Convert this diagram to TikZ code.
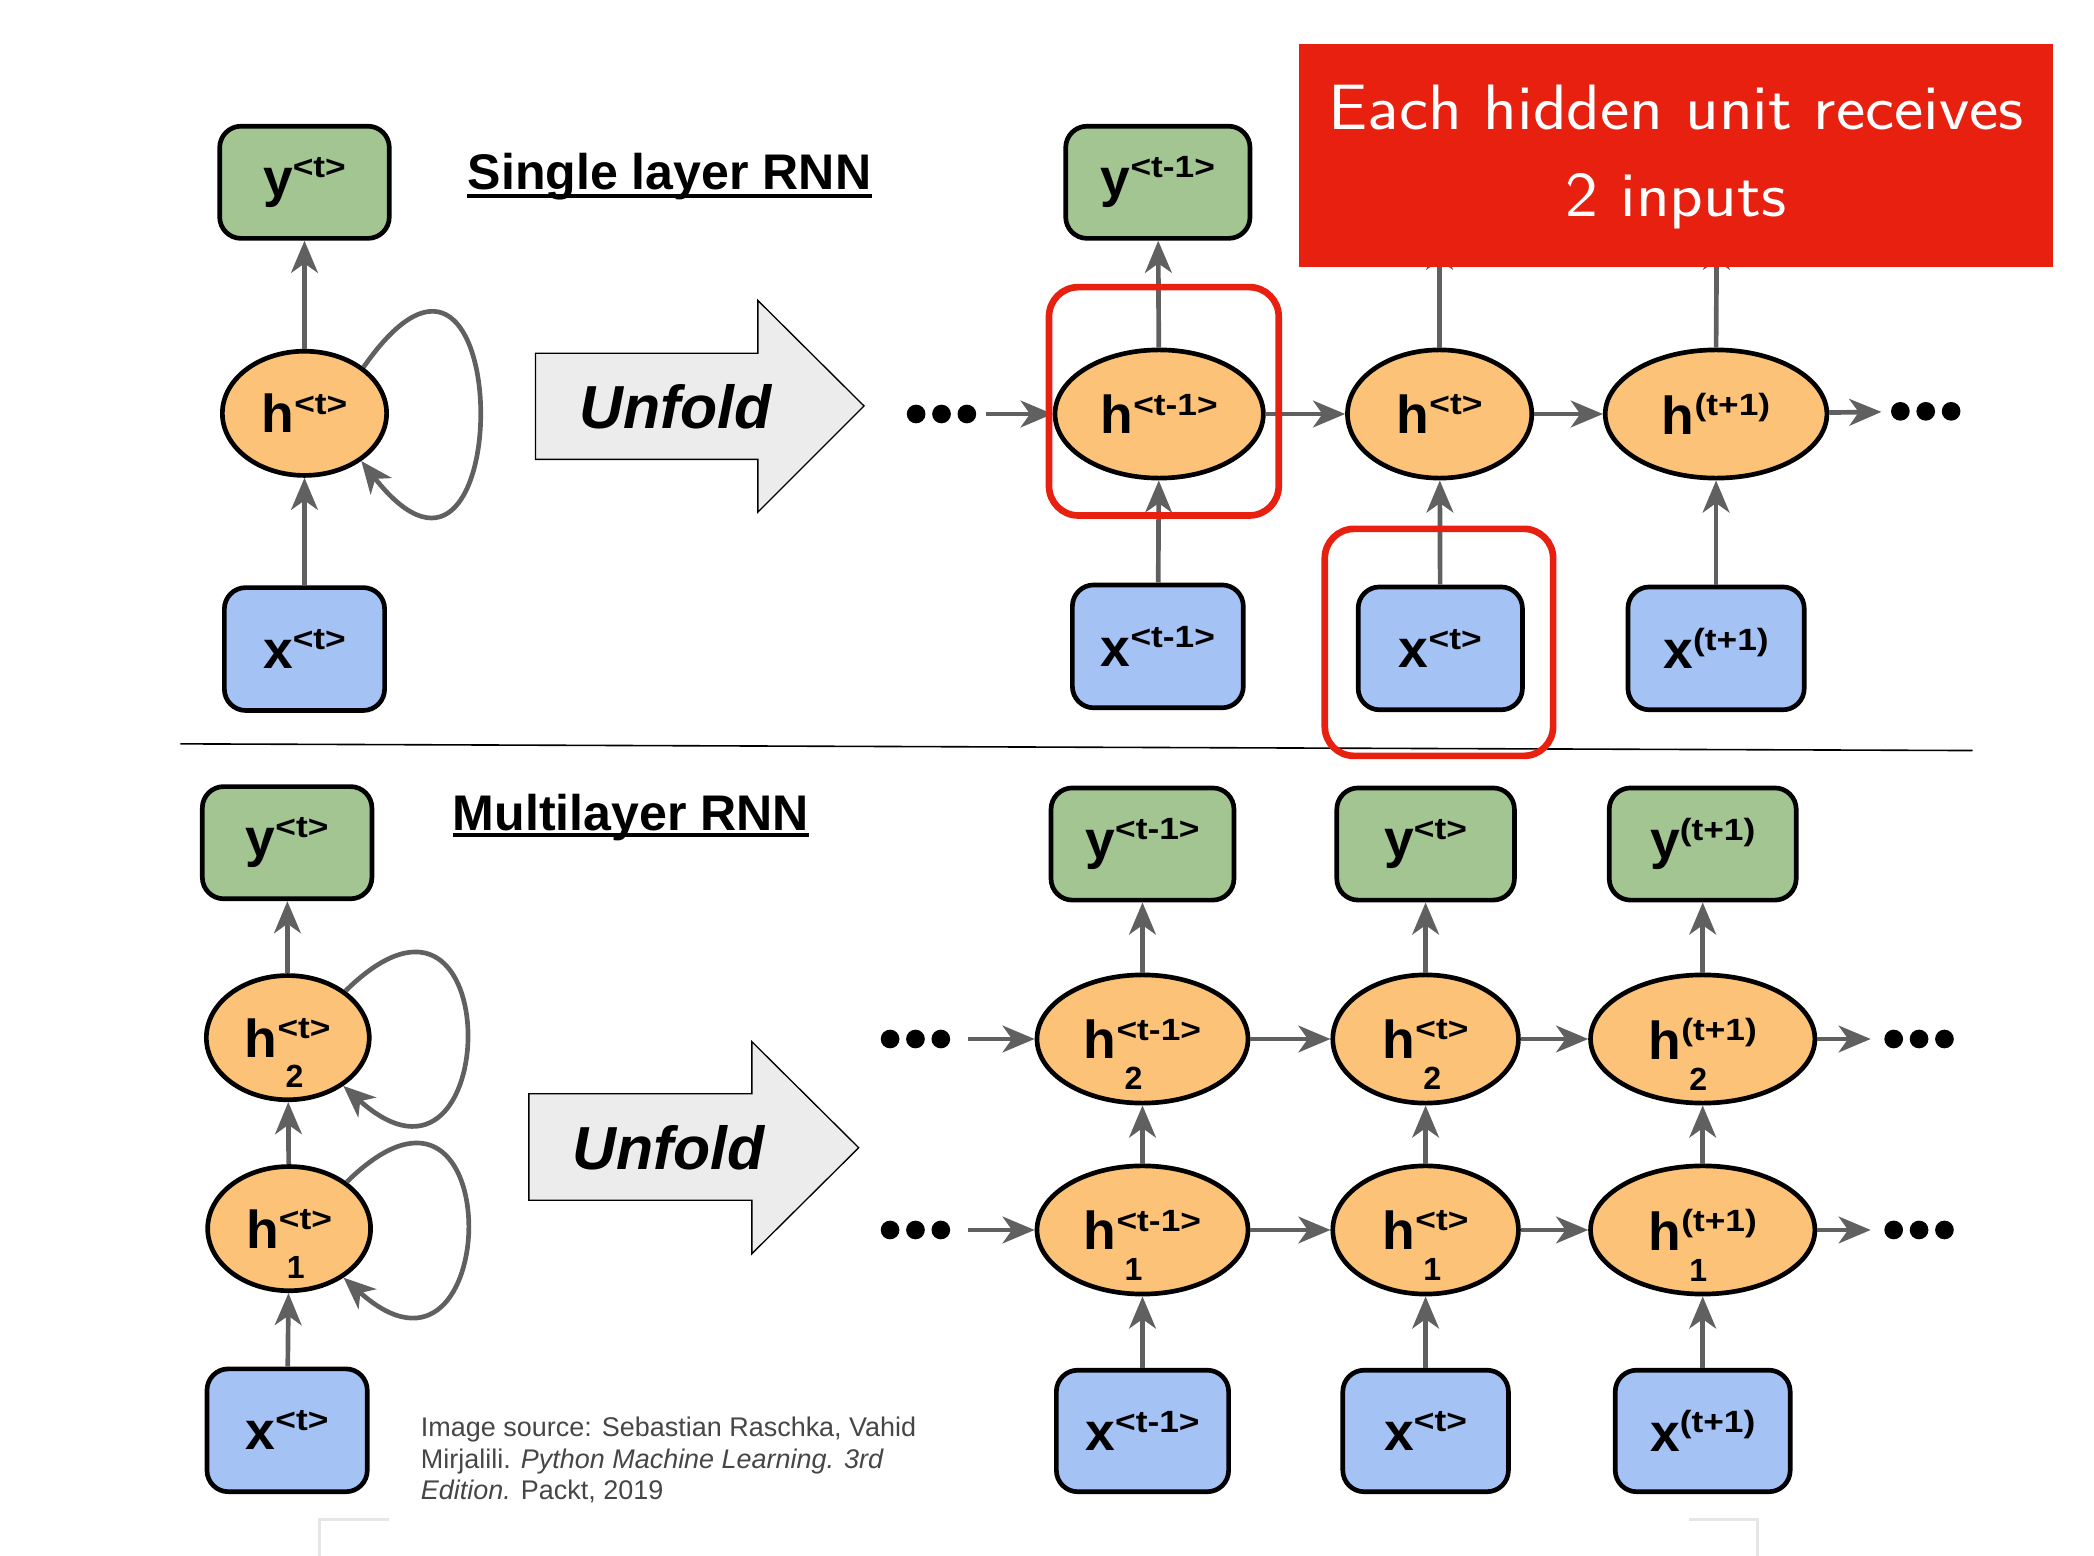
\documentclass[tikz,border=0pt]{standalone}
\usepackage{fontspec}
\setmainfont{Liberation Sans}
\usetikzlibrary{arrows.meta,shapes.geometric}
\definecolor{ygreen}{RGB}{162,197,146}
\definecolor{horange}{RGB}{252,194,120}
\definecolor{xblue}{RGB}{164,194,244}
\definecolor{arrgray}{RGB}{96,96,96}
\definecolor{hired}{RGB}{232,32,16}
\definecolor{citegray}{RGB}{70,70,70}
\definecolor{framegray}{RGB}{230,230,230}
\definecolor{unfoldgray}{RGB}{236,236,236}
\newcommand{\supf}{\fontsize{23}{23}\selectfont\bfseries}
\newcommand{\subf}{\fontsize{24}{24}\selectfont\bfseries}
\newcommand{\lab}[2]{{\fontsize{40}{40}\selectfont\bfseries #1}\raisebox{14pt}{\supf\scalebox{1.15}[1]{#2}}}
\newcommand{\labsub}[3]{{\fontsize{40}{40}\selectfont\bfseries #1}\rlap{\hspace{6pt}\raisebox{-23pt}[0pt][0pt]{\subf #3}}\raisebox{14pt}{\supf\scalebox{1.15}[1]{#2}}}
\tikzset{
  ybox/.style={draw, line width=3.5pt, rounded corners=16pt, fill=ygreen, inner sep=0pt, minimum height=84pt},
  xbox/.style={draw, line width=3.5pt, rounded corners=16pt, fill=xblue, inner sep=0pt, minimum height=92pt},
  hnode/.style={ellipse, draw, line width=3.5pt, fill=horange, inner sep=0pt, minimum height=96pt},
  arr/.style={draw=arrgray, line width=3.5pt, -{Stealth[length=24pt,width=20pt,inset=7pt]}},
  hilite/.style={draw=hired, line width=5pt, rounded corners=22pt},
  dotrow/.style={inner sep=0pt, minimum width=52pt, minimum height=14pt},
  unfold/.style={draw, line width=1pt, fill=unfoldgray},
  title/.style={anchor=base west, inner sep=0pt, font=\fontsize{37.5}{37.5}\selectfont\bfseries}
}
\begin{document}
\begin{tikzpicture}[x=1pt, y=-1pt]
\useasboundingbox (0,0) rectangle (1568,1165);

\node[ybox, minimum width=127pt] (ys) at (228,136.5) {\lab{y}{<t>}};
\node[hnode, minimum width=123pt, minimum height=93pt] (hs) at (228,309.5) {\lab{h}{<t>}};
\node[xbox, minimum width=120pt] (xs) at (228,486) {\lab{x}{<t>}};
\draw[arr] (xs) -- (hs);
\draw[arr] (hs) -- (ys);
\draw[arr] (hs.38) .. controls +(115,-165) and +(118,150) .. (hs.-40);

\node[title] (title1) at (350,142) {Single layer RNN};
\draw[line width=3pt] ([yshift=-4.5pt]title1.base west) -- ([yshift=-4.5pt]title1.base east);

\draw[unfold] (401,264.5) -- (567.5,264.5) -- (567.5,225) -- (647,304) -- (567.5,383.5) -- (567.5,344) -- (401,344) -- cycle;
\node[anchor=base, font=\fontsize{45.5}{45.5}\selectfont\bfseries\itshape] (unfold1) at (506,321) {Unfold};

\node[dotrow] (dl) at (705,310) {};
\node[dotrow] (dr) at (1442,308) {};
\foreach \k in {-19,0,19} {
  \fill ([xshift=\k pt]dl.center) circle (7pt);
  \fill ([xshift=\k pt]dr.center) circle (7pt);
}
\node[ybox, minimum width=138pt] (y1) at (867,136.5) {\lab{y}{<t-1>}};
\node[hnode, minimum width=156pt] (h1) at (868,310) {\lab{h}{<t-1>}};
\node[hnode, minimum width=138pt] (h2) at (1078,310) {\lab{h}{<t>}};
\node[hnode, minimum width=166pt] (h3) at (1285,310) {\lab{h}{(t+1)}};
\node[xbox, minimum width=128pt] (x1) at (867,484) {\lab{x}{<t-1>}};
\node[xbox, minimum width=123pt] (x2) at (1078.5,485.5) {\lab{x}{<t>}};
\node[xbox, minimum width=132pt] (x3) at (1285,485.5) {\lab{x}{(t+1)}};
\coordinate (y2) at (1078,178);
\coordinate (y3) at (1285.5,178);
\draw[arr, shorten <=7pt] (dl) -- (h1);
\draw[arr] (h1) -- (h2);
\draw[arr] (h2) -- (h3);
\draw[arr, shorten >=7pt] (h3) -- (dr);
\draw[arr] (h1) -- (y1);
\draw[arr] (h2.north) -- (y2);
\draw[arr] (h3.north) -- (y3);
\foreach \i in {1,2,3} {
  \draw[arr] (x\i) -- (h\i);
}

\draw[line width=1.2pt] (135,557) -- (1477,562);

\node[hilite, minimum width=172pt, minimum height=171pt] (f1) at (871.5,300.5) {};
\node[hilite, minimum width=171pt, minimum height=170pt] (f2) at (1077.5,481) {};
\node[fill=hired, minimum width=564pt, minimum height=167pt, inner sep=0pt, text=white, font=\sffamily\fontsize{48}{65}\selectfont] (note) at (1255,116.5) {\scalebox{1.088}[1]{\begin{tabular}{@{}c@{}}Each hidden unit receives\\2 inputs\end{tabular}}};

\node[ybox, minimum width=127pt] (yb) at (215,631) {\lab{y}{<t>}};
\node[hnode, minimum width=122pt, minimum height=93pt] (tb) at (215.5,777) {\labsub{h}{<t>}{2}};
\node[hnode, minimum width=122pt, minimum height=93pt] (bb) at (216.5,920) {\labsub{h}{<t>}{1}};
\node[xbox, minimum width=120pt] (xb) at (215,1071) {\lab{x}{<t>}};
\draw[arr] (xb) -- (bb);
\draw[arr] (bb) -- (tb);
\draw[arr] (tb) -- (yb);
\draw[arr] (tb.39) .. controls +(123,-121) and +(120,108) .. (tb.-41);
\draw[arr] (bb.39) .. controls +(123,-121) and +(120,108) .. (bb.-42);

\node[title] (title2) at (339,621.5) {Multilayer RNN};
\draw[line width=3pt] ([yshift=-3.5pt]title2.base west) -- ([yshift=-3.5pt]title2.base east);

\draw[unfold] (396,819) -- (563,819) -- (563,780) -- (643,859.4) -- (563,938.8) -- (563,898.7) -- (396,898.7) -- cycle;
\node[anchor=base, font=\fontsize{45.5}{45.5}\selectfont\bfseries\itshape] (unfold2) at (500.8,876) {Unfold};

\node[anchor=north west, inner sep=0pt, align=left, text=citegray, font=\fontsize{20.2}{23.4}\selectfont] (cite) at (315,1061) {Image source: Sebastian Raschka, Vahid\\Mirjalili. \textit{Python Machine Learning. 3rd}\\\textit{Edition.} Packt, 2019};

\foreach \i/\xc/\tsup/\wy/\wh/\wx in {1/855.5/{<t-1>}/137/158/129, 2/1067.5/{<t>}/133/139/124, 3/1275/{(t+1)}/140/168/131} {
  \node[ybox, minimum width=\wy pt] (my\i) at (\xc,632) {\lab{y}{\tsup}};
  \node[hnode, minimum width=\wh pt] (mt\i) at (\xc,778) {\labsub{h}{\tsup}{2}};
  \node[hnode, minimum width=\wh pt] (mb\i) at (\xc,921) {\labsub{h}{\tsup}{1}};
  \node[xbox, minimum width=\wx pt, minimum height=91pt] (mx\i) at (\xc,1071.5) {\lab{x}{\tsup}};
  \draw[arr] (mx\i) -- (mb\i);
  \draw[arr] (mb\i) -- (mt\i);
  \draw[arr] (mt\i) -- (my\i);
}
\node[dotrow] (tl) at (685.5,778) {};
\node[dotrow] (bl) at (685.5,921) {};
\node[dotrow] (tr) at (1437,778) {};
\node[dotrow] (br) at (1437,921) {};
\foreach \k in {-19,0,19} {
  \fill ([xshift=\k pt]tl.center) circle (7pt);
  \fill ([xshift=\k pt]bl.center) circle (7pt);
  \fill ([xshift=\k pt]tr.center) circle (7pt);
  \fill ([xshift=\k pt]br.center) circle (7pt);
}
\draw[arr, shorten <=13pt] (tl) -- (mt1);
\draw[arr, shorten <=13pt] (bl) -- (mb1);
\draw[arr, shorten >=10pt] (mt3) -- (tr);
\draw[arr, shorten >=10pt] (mb3) -- (br);
\foreach \i/\j in {1/2,2/3} {
  \draw[arr] (mt\i) -- (mt\j);
  \draw[arr] (mb\i) -- (mb\j);
}

\draw[framegray, line width=2pt] (239,1165) -- (239,1138) -- (291,1138);
\draw[framegray, line width=2pt] (1265,1138) -- (1316,1138) -- (1316,1165);
\end{tikzpicture}
\end{document}
